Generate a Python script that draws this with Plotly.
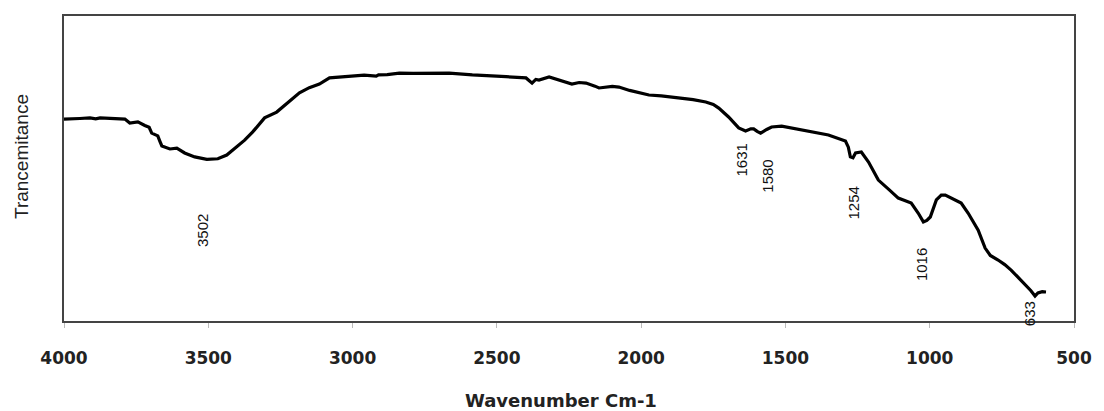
import plotly.graph_objects as go

# Wavenumber (cm-1) and transmittance (arbitrary %)
wavenumber = [4000, 3979, 3945, 3910, 3890, 3875, 3840, 3806, 3789, 3772, 3758, 3744, 3720,
              3705, 3696, 3675, 3668, 3661, 3633, 3609, 3582, 3547, 3505, 3467, 3436, 3409,
              3374, 3346, 3305, 3263, 3220, 3184, 3150, 3115, 3080, 3035, 3011, 2960, 2918,
              2910, 2880, 2838, 2790, 2734, 2665, 2585, 2520, 2468, 2399, 2378, 2365, 2354,
              2319, 2280, 2240, 2215, 2191, 2160, 2146, 2100, 2077, 2040, 2008, 1973, 1930,
              1870, 1820, 1776, 1750, 1731, 1697, 1662, 1638, 1620, 1610, 1598, 1586, 1565,
              1548, 1513, 1480, 1444, 1400, 1351, 1292, 1282, 1275, 1266, 1257, 1237, 1212,
              1178, 1140, 1109, 1080, 1064, 1040, 1022, 1010, 998, 977, 960, 946, 920, 891,
              867, 832, 808, 790, 763, 740, 718, 690, 669, 650, 635, 625, 610, 597]
transmittance = [66.2, 66.2, 66.4, 66.6, 66.3, 66.6, 66.5, 66.2, 66.2, 64.9, 65.1, 65.3, 64.1,
                 63.5, 61.6, 60.7, 59.0, 57.4, 56.4, 56.7, 55.1, 53.8, 53.0, 53.2, 54.4, 56.4,
                 59.3, 62.0, 66.6, 68.5, 71.8, 74.8, 76.5, 77.7, 79.7, 80.0, 80.3, 80.6, 80.3,
                 80.7, 80.8, 81.3, 81.2, 81.2, 81.3, 80.7, 80.5, 80.1, 79.7, 78.0, 79.2, 79.0,
                 80.0, 78.8, 77.7, 78.2, 78.0, 77.0, 76.4, 76.9, 76.7, 75.6, 74.8, 74.1, 73.8,
                 73.1, 72.6, 71.8, 71.0, 69.8, 66.9, 63.3, 62.3, 63.0, 63.0, 62.2, 61.6, 62.8,
                 63.6, 63.9, 63.3, 62.6, 62.0, 61.0, 59.0, 57.0, 53.8, 53.5, 55.1, 55.4, 52.1,
                 46.2, 43.0, 40.3, 39.3, 38.7, 35.4, 32.5, 33.0, 34.1, 39.7, 41.3, 41.3, 40.2,
                 38.7, 35.4, 29.8, 23.9, 21.5, 20.0, 18.5, 16.7, 14.0, 11.8, 10.0, 8.2, 9.2,
                 9.6, 9.5]

peak_labels = ["3502", "1631", "1580", "1254", "1016", "633"]
peak_label_x = [3522, 1652, 1562, 1264, 1026, 652]
peak_label_y = [29.8, 52.8, 47.5, 38.7, 18.4, 2.3]

tick_values = [4000, 3500, 3000, 2500, 2000, 1500, 1000, 500]

fig = go.Figure()
fig.add_trace(go.Scatter(x=wavenumber, y=transmittance, mode="lines",
                         line=dict(color="black", width=3.2), showlegend=False,
                         hoverinfo="skip"))

for lab, lx, ly in zip(peak_labels, peak_label_x, peak_label_y):
    fig.add_annotation(x=lx, y=ly, xref="x", yref="y", text=lab, showarrow=False,
                       textangle=-90, font=dict(family="Liberation Sans", size=15, color="#111"),
                       xanchor="center", yanchor="middle")

fig.add_annotation(x=0.492, y=-0.262, xref="paper", yref="paper", text="Wavenumber Cm-1",
                   showarrow=False, font=dict(family="DejaVu Sans", size=18, color="#222", weight="bold"),
                   xanchor="center", yanchor="middle")
fig.add_annotation(x=-0.0415, y=0.538, xref="paper", yref="paper", text="Trancemitance",
                   showarrow=False, textangle=-90,
                   font=dict(family="Liberation Sans", size=19, color="#222"),
                   xanchor="center", yanchor="middle")

fig.update_xaxes(range=[4000, 500], tickvals=tick_values, ticktext=[str(v) for v in tick_values],
                 showgrid=False, zeroline=False, showline=True, mirror=True,
                 linecolor="#444", linewidth=2, ticks="outside", ticklen=5,
                 tickcolor="#bbb", tickwidth=1, ticklabelstandoff=16,
                 tickfont=dict(family="DejaVu Sans", size=17, color="#222", weight="bold"))
fig.update_yaxes(range=[0, 100], showticklabels=False, showgrid=False, zeroline=False,
                 showline=True, mirror=True, linecolor="#444", linewidth=2, ticks="")

fig.update_layout(width=1104, height=411, margin=dict(l=64, r=28, t=16, b=90),
                  paper_bgcolor="white", plot_bgcolor="white")

fig.write_html("out.html")
